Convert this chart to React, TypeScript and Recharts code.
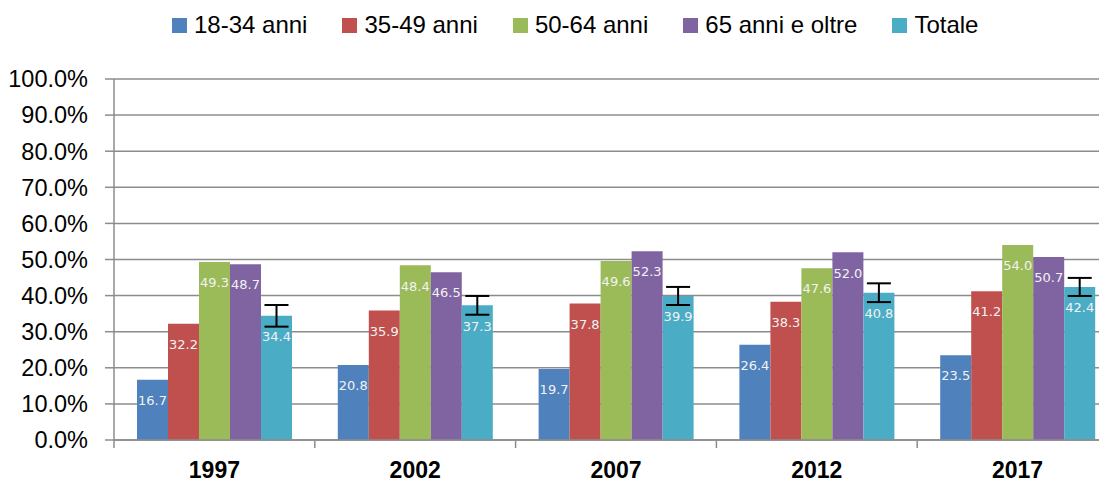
import React from 'react';
import { BarChart, Bar, XAxis, YAxis, CartesianGrid, LabelList, ErrorBar } from 'recharts';

const years = ['1997', '2002', '2007', '2012', '2017'];
const age1834 = [16.7, 20.8, 19.7, 26.4, 23.5];
const age3549 = [32.2, 35.9, 37.8, 38.3, 41.2];
const age5064 = [49.3, 48.4, 49.6, 47.6, 54.0];
const age65 = [48.7, 46.5, 52.3, 52.0, 50.7];
const totale = [34.4, 37.3, 39.9, 40.8, 42.4];
const totaleErr = [3.0, 2.6, 2.5, 2.6, 2.5];
const yTicks = [0, 10, 20, 30, 40, 50, 60, 70, 80, 90, 100];

const seriesNames = ['18-34 anni', '35-49 anni', '50-64 anni', '65 anni e oltre', 'Totale'];
const seriesKeys = ['a', 'b', 'c', 'd', 'e'];
const seriesColors = ['#4f81bd', '#c0504d', '#9bbb59', '#8064a2', '#4bacc6'];

const data = years.map((y, i) => ({
  year: y,
  a: age1834[i],
  b: age3549[i],
  c: age5064[i],
  d: age65[i],
  e: totale[i],
  err: totaleErr[i],
}));

const FONT = '"Liberation Sans", Arial, sans-serif';

const XTick = (props: any) => {
  const { x, y, payload, index, visibleTicksCount, width } = props;
  const band = width / visibleTicksCount;
  const lx = x - band / 2;
  const rx = x + band / 2;
  return (
    <g>
      <line x1={lx} y1={y} x2={lx} y2={y + 8} stroke="#8c8c8c" strokeWidth={1.5} />
      {index === visibleTicksCount - 1 && (
        <line x1={rx} y1={y} x2={rx} y2={y + 8} stroke="#8c8c8c" strokeWidth={1.5} />
      )}
      <text x={x} y={y + 38} textAnchor="middle" fontFamily={FONT} fontSize={23} fontWeight="bold" fill="#000">
        {payload.value}
      </text>
    </g>
  );
};

export default function App() {
  return (
    <div style={{ margin: -8, width: 1107, height: 486, overflow: 'hidden', position: 'relative', background: '#fff' }}>
      <div
        style={{
          position: 'absolute',
          top: 11,
          left: 172,
          display: 'flex',
          alignItems: 'center',
          fontFamily: FONT,
          fontSize: 24,
          lineHeight: '28px',
          color: '#000',
          whiteSpace: 'nowrap',
        }}
      >
        {seriesNames.map((n, i) => (
          <div key={n} style={{ display: 'flex', alignItems: 'center', marginRight: 35 }}>
            <span style={{ display: 'inline-block', width: 15, height: 15, background: seriesColors[i], marginRight: 7 }} />
            <span>{n}</span>
          </div>
        ))}
      </div>
      <BarChart
        width={1126}
        height={486}
        data={data}
        margin={{ top: 79, right: 8, left: 0, bottom: 6 }}
        barCategoryGap={23}
        barGap={0}
      >
        <CartesianGrid vertical={false} stroke="#8c8c8c" strokeWidth={1.5} />
        <XAxis
          dataKey="year"
          tickLine={false}
          tickSize={0}
          tickMargin={0}
          height={40}
          axisLine={{ stroke: '#8c8c8c', strokeWidth: 1.5 }}
          tick={<XTick />}
          interval={0}
        />
        <YAxis
          width={114}
          domain={[0, 100]}
          ticks={yTicks}
          interval={0}
          tickSize={9}
          tickMargin={17}
          tickLine={{ stroke: '#8c8c8c', strokeWidth: 1.5 }}
          axisLine={{ stroke: '#8c8c8c', strokeWidth: 1.5 }}
          tickFormatter={(v: number) => `${v.toFixed(1)}%`}
          tick={{ fontFamily: FONT, fontSize: 23.5, fill: '#000' }}
        />
        {seriesKeys.map((k, i) => (
          <Bar key={k} dataKey={k} name={seriesNames[i]} fill={seriesColors[i]} isAnimationActive={false}>
            <LabelList
              dataKey={k}
              position="insideTop"
              offset={16}
              formatter={(v: number) => v.toFixed(1)}
              style={{ fontFamily: 'DejaVu Sans', fontSize: 13, fill: '#f2f2f2' }}
            />
            {k === 'e' && (
              <ErrorBar dataKey="err" width={12} stroke="#000" strokeWidth={2} direction="y" />
            )}
          </Bar>
        ))}
      </BarChart>
    </div>
  );
}
